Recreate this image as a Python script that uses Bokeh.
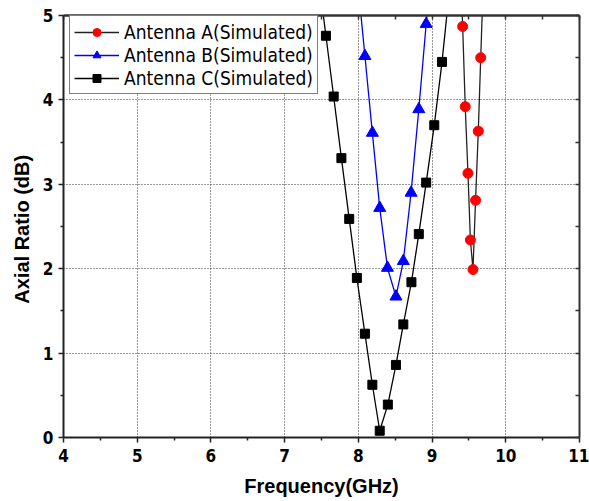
from bokeh.plotting import figure
from bokeh.models import LinearAxis, FixedTicker, Range1d, Legend, LegendItem
from bokeh.embed import file_html
from bokeh.resources import INLINE

# Axial ratio versus frequency for three antenna designs (simulated)
freq_a = [9.38, 9.415, 9.45, 9.487, 9.52, 9.555, 9.59, 9.627, 9.66, 9.695]
ar_a = [5.8, 4.87, 3.92, 3.13, 2.34, 1.99, 2.81, 3.63, 4.50, 5.4]

freq_b = [7.98, 8.089, 8.19, 8.29, 8.395, 8.51, 8.61, 8.715, 8.82, 8.92, 9.03]
ar_b = [5.5, 4.52, 3.61, 2.72, 2.01, 1.67, 2.09, 2.90, 3.89, 4.90, 5.9]

freq_c = [7.455, 7.56, 7.665, 7.77, 7.876, 7.98, 8.089, 8.19, 8.29, 8.40,
          8.51, 8.61, 8.72, 8.82, 8.92, 9.03, 9.135, 9.24]
ar_c = [5.48, 4.76, 4.04, 3.31, 2.59, 1.89, 1.23, 0.625, 0.08, 0.39,
        0.86, 1.34, 1.84, 2.41, 3.02, 3.70, 4.45, 5.34]

x_ticks = [4, 5, 6, 7, 8, 9, 10, 11]
x_minor = [4.5, 5.5, 6.5, 7.5, 8.5, 9.5, 10.5]
y_ticks = [0, 1, 2, 3, 4, 5]
y_minor = [0.5, 1.5, 2.5, 3.5, 4.5]

series_names = ["Antenna A(Simulated)", "Antenna B(Simulated)", "Antenna C(Simulated)"]

TICK_FONT = "DejaVu Sans Condensed"
TITLE_FONT = "Liberation Sans"
LEGEND_FONT = "DejaVu Sans Condensed"

p = figure(width=589, height=501, output_backend="svg", toolbar_location=None,
           x_range=Range1d(4, 11), y_range=Range1d(0, 5),
           x_axis_label="Frequency(GHz)", y_axis_label="Axial  Ratio (dB)",
           min_border_left=63, min_border_right=10, min_border_top=15,
           min_border_bottom=64)
p.outline_line_color = None
p.background_fill_color = "white"
p.border_fill_color = "white"

for ax, ticks, minor in ((p.xaxis[0], x_ticks, x_minor), (p.yaxis[0], y_ticks, y_minor)):
    ax.ticker = FixedTicker(ticks=ticks, minor_ticks=minor)
    ax.axis_line_width = 2
    ax.axis_line_color = "#222222"
    ax.major_tick_line_width = 1.5
    ax.minor_tick_line_width = 1.5
    ax.major_tick_line_color = "#222222"
    ax.minor_tick_line_color = "#222222"
    ax.major_tick_out = 5
    ax.major_tick_in = 0
    ax.minor_tick_out = 3
    ax.minor_tick_in = 0
    ax.major_label_text_font = TICK_FONT
    ax.major_label_text_font_style = "bold"
    ax.major_label_text_font_size = "17px"
    ax.major_label_text_color = "black"
    ax.axis_label_text_font = TITLE_FONT
    ax.axis_label_text_font_style = "bold"
    ax.axis_label_text_font_size = "20px"
    ax.axis_label_text_color = "black"
p.xaxis[0].major_label_standoff = 6
p.xaxis[0].axis_label_standoff = 10
p.yaxis[0].major_label_standoff = 5
p.yaxis[0].axis_label_standoff = 7

# mirrored frame edges: every tick drawn inward, no labels
top = LinearAxis(ticker=FixedTicker(ticks=[], minor_ticks=x_ticks + x_minor))
right = LinearAxis(ticker=FixedTicker(ticks=[], minor_ticks=y_ticks + y_minor))
for ax in (top, right):
    ax.axis_line_width = 2.5
    ax.axis_line_color = "#333333"
    ax.minor_tick_in = 4
    ax.minor_tick_out = 0
    ax.minor_tick_line_width = 1.5
    ax.minor_tick_line_color = "#333333"
    ax.major_label_standoff = 0
p.add_layout(top, "above")
p.add_layout(right, "right")
right.axis_line_width = 2

for grid in (p.xgrid[0], p.ygrid[0]):
    grid.grid_line_color = "#333333"
    grid.grid_line_dash = "1 2"
    grid.grid_line_width = 1

line_a = p.line(freq_a, ar_a, line_color="#222222", line_width=1.3)
mark_a = p.scatter(freq_a, ar_a, marker="circle", size=10, fill_color="red", line_color="red")

line_b = p.line(freq_b, ar_b, line_color="blue", line_width=1.3)
mark_b = p.scatter(freq_b, ar_b, marker="triangle", size=12, fill_color="blue", line_color="blue")

line_c = p.line(freq_c, ar_c, line_color="black", line_width=1.3)
mark_c = p.scatter(freq_c, ar_c, marker="square", size=9, fill_color="black", line_color="black")

legend = Legend(items=[
    LegendItem(label=series_names[0], renderers=[line_a, mark_a]),
    LegendItem(label=series_names[1], renderers=[line_b, mark_b]),
    LegendItem(label=series_names[2], renderers=[line_c, mark_c]),
])
legend.location = (6, 343)
legend.orientation = "vertical"
legend.border_line_color = "black"
legend.border_line_width = 1
legend.background_fill_color = "white"
legend.background_fill_alpha = 1
legend.label_text_font = LEGEND_FONT
legend.label_text_font_size = "19px"
legend.label_text_color = "black"
legend.glyph_width = 45
legend.glyph_height = 20
legend.label_height = 23
legend.label_standoff = 5
legend.spacing = 0
legend.padding = 4
legend.margin = 0
p.add_layout(legend, "center")

open("out.html", "w").write(file_html(p, INLINE))
